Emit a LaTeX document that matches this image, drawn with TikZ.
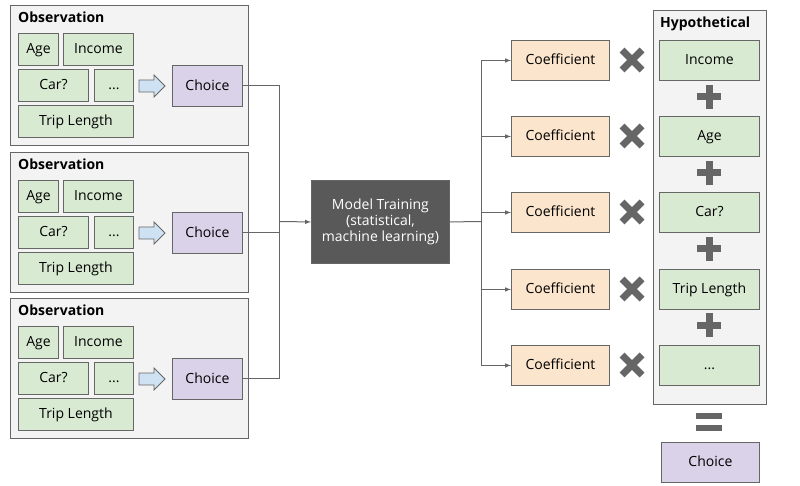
\documentclass[tikz,border=0pt]{standalone}
\usepackage{fontspec}
\setmainfont{Open Sans}
\definecolor{panelbg}{HTML}{F3F3F3}
\definecolor{edge}{HTML}{666666}
\definecolor{feat}{HTML}{D9EAD3}
\definecolor{coef}{HTML}{FCE5CD}
\definecolor{pick}{HTML}{D9D2E9}
\definecolor{flow}{HTML}{CFE2F3}
\definecolor{mark}{HTML}{666666}
\newcommand{\more}{...}
\tikzset{
  box/.style={draw=edge, line width=0.9pt, inner sep=0pt, anchor=north west,
    font=\fontsize{14}{16}\selectfont, text height=11pt, text depth=2pt},
  panel/.style={box, fill=panelbg},
  feature/.style={box, fill=feat},
  coefbox/.style={box, fill=coef, minimum width=98pt, minimum height=40pt},
  choicebox/.style={box, fill=pick},
  title/.style={anchor=north west, inner sep=0pt, font=\fontsize{14}{16}\selectfont\bfseries},
  link/.style={draw=edge, line width=1pt, -latex},
  sign/.style={draw=mark, line width=7pt},
}
\begin{document}
\begin{tikzpicture}[x=1pt,y=-1pt]
\useasboundingbox (0,0) rectangle (800,486);

% observations
\foreach \i/\dy in {1/0,2/147,3/293}{
  \begin{scope}[yshift=-\dy pt]
  \node[panel, minimum width=238pt, minimum height=140pt] (obs\i) at (10,5) {};
  \node[title] at (18,12) {Observation};
  \node[feature, minimum width=40pt, minimum height=32pt] (age\i) at (18,33) {Age};
  \node[feature, minimum width=70pt, minimum height=32pt] (inc\i) at (63,33) {Income};
  \node[feature, minimum width=70pt, minimum height=32pt] (car\i) at (18,69) {Car?};
  \node[feature, minimum width=39pt, minimum height=32pt] (etc\i) at (94,69) {\more};
  \node[feature, minimum width=115pt, minimum height=32pt] (trip\i) at (18,105) {Trip Length};
  \draw[draw=edge, fill=flow, line width=0.8pt] (139,80) -- (154,80) -- (154,75) -- (165,86)
    -- (154,97) -- (154,92) -- (139,92) -- cycle;
  \node[choicebox, minimum width=70pt, minimum height=41pt] (ch\i) at (172,65) {Choice};
  \end{scope}
}

% model
\node[box, fill=black!65, text=white, minimum width=138pt, minimum height=83pt, align=center,
  text height=, text depth=] (model) at (311,180) {Model Training\\(statistical,\\machine learning)};
\coordinate (join) at (279,221.5);
\foreach \i in {1,2,3}
  \draw[draw=edge, line width=1pt] (ch\i.east) -| (join);
\draw[link] (join) -- (model.west);

% hypothetical
\node[panel, minimum width=113pt, minimum height=394pt] (hyp) at (653,10) {};
\node[title] at (660,17) {Hypothetical};
\coordinate (split) at (481,221.5);
\draw[draw=edge, line width=1pt] (model.east) -- (split);
\foreach \j/\y/\t in {1/40/Income,2/116/Age,3/192/Car?,4/269/Trip Length,5/345/\more}{
  \node[coefbox] (coef\j) at (511,\y) {Coefficient};
  \node[feature, minimum width=100pt, minimum height=40pt] (hf\j) at (659,\y) {\t};
  \draw[link] (split) |- (coef\j.west);
  \draw[sign] (622,\y+10) -- (642,\y+30) (622,\y+30) -- (642,\y+10);
}
\foreach \y in {97,173,249,325}
  \draw[sign] (697,\y) -- (721,\y) (709,\y-12) -- (709,\y+12);
\draw[draw=mark, line width=5.5pt] (696,416) -- (722,416) (696,428) -- (722,428);
\node[choicebox, minimum width=98pt, minimum height=40pt] (fin) at (661,442) {Choice};
\end{tikzpicture}
\end{document}
